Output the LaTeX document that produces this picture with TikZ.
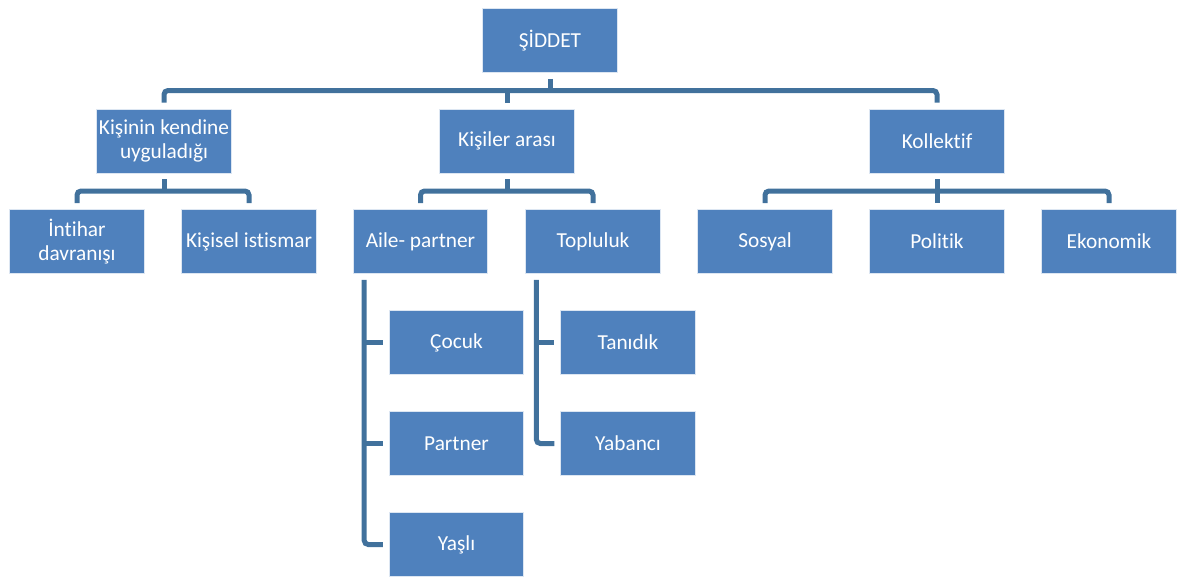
\documentclass[tikz,border=0pt]{standalone}
\usepackage{fontspec}
\setmainfont{Carlito}[Ligatures={NoCommon}]
\usepackage{tikz}
\usepackage{xcolor}
\definecolor{kutumavi}{RGB}{79,129,189}
\definecolor{bagmavi}{RGB}{65,113,156}
\tikzset{
	kutu/.style={draw=white!80!kutumavi, line width=0.6pt, fill=kutumavi, text=white,
		minimum width=101pt, minimum height=48pt, inner sep=2pt, align=center,
		font=\fontsize{16}{17.5}\selectfont},
	bag/.style={color=bagmavi, line width=3.75pt, rounded corners=3pt}
}

\begin{document}
\begin{tikzpicture}[x=0.75pt, y=-0.75pt]
				\useasboundingbox (0,0) rectangle (1177,579);
				\node[kutu] (siddet) at (550,40.5) {ŞİDDET};
				\node[kutu] (kendine) at (164,141) {Kişinin kendine\\uyguladığı};
				\node[kutu] (arasi) at (507,141) {Kişiler arası};
				\node[kutu] (kollektif) at (937,141) {Kollektif};
				\node[kutu] (intihar) at (77,241.5) {İntihar\\davranışı};
				\node[kutu] (kisisel) at (249,241.5) {Kişisel istismar};
				\node[kutu] (aile) at (420.5,241.5) {Aile- partner};
				\node[kutu] (topluluk) at (593,241.5) {Topluluk};
				\node[kutu] (sosyal) at (765,241.5) {Sosyal};
				\node[kutu] (politik) at (937,241.5) {Politik};
				\node[kutu] (ekonomik) at (1109,241.5) {Ekonomik};
				\node[kutu] (cocuk) at (456.5,342.5) {Çocuk};
				\node[kutu] (partner) at (456.5,443.5) {Partner};
				\node[kutu] (yasli) at (456.5,544.5) {Yaşlı};
				\node[kutu] (tanidik) at (628,342.5) {Tanıdık};
				\node[kutu] (yabanci) at (628,443.5) {Yabancı};
				\coordinate (cizgi0) at (550,90.5);
				\coordinate (cizgi1) at (164,191);
				\coordinate (cizgi2) at (507,191);
				\coordinate (cizgi3) at (937,191);
				\coordinate (aileline) at ([xshift=8.6pt,yshift=-4.5pt]aile.south west);
				\coordinate (toplulukline) at ([xshift=8.3pt,yshift=-4.5pt]topluluk.south west);
				\draw[bag] ([yshift=-4.5pt]siddet.south) -- (cizgi0);
				\draw[bag] ([yshift=4.5pt]kendine.north) |- (cizgi0 -| kollektif.north) -- ([yshift=4.5pt]kollektif.north);
				\draw[bag] (cizgi0 -| arasi.north) -- ([yshift=4.5pt]arasi.north);
				\draw[bag] ([yshift=-4.5pt]kendine.south) -- (cizgi1);
				\draw[bag] ([yshift=4.5pt]intihar.north) |- (cizgi1 -| kisisel.north) -- ([yshift=4.5pt]kisisel.north);
				\draw[bag] ([yshift=-4.5pt]arasi.south) -- (cizgi2);
				\draw[bag] ([yshift=4.5pt]aile.north) |- (cizgi2 -| topluluk.north) -- ([yshift=4.5pt]topluluk.north);
				\draw[bag] ([yshift=-4.5pt]kollektif.south) -- ([yshift=4.5pt]politik.north);
				\draw[bag] ([yshift=4.5pt]sosyal.north) |- (cizgi3 -| ekonomik.north) -- ([yshift=4.5pt]ekonomik.north);
				\draw[bag] (aileline) |- ([xshift=-4.5pt]yasli.west);
				\draw[bag] (cocuk.west -| aileline) -- ([xshift=-4.5pt]cocuk.west);
				\draw[bag] (partner.west -| aileline) -- ([xshift=-4.5pt]partner.west);
				\draw[bag] (toplulukline) |- ([xshift=-4.5pt]yabanci.west);
				\draw[bag] (tanidik.west -| toplulukline) -- ([xshift=-4.5pt]tanidik.west);
\end{tikzpicture}
\end{document}
